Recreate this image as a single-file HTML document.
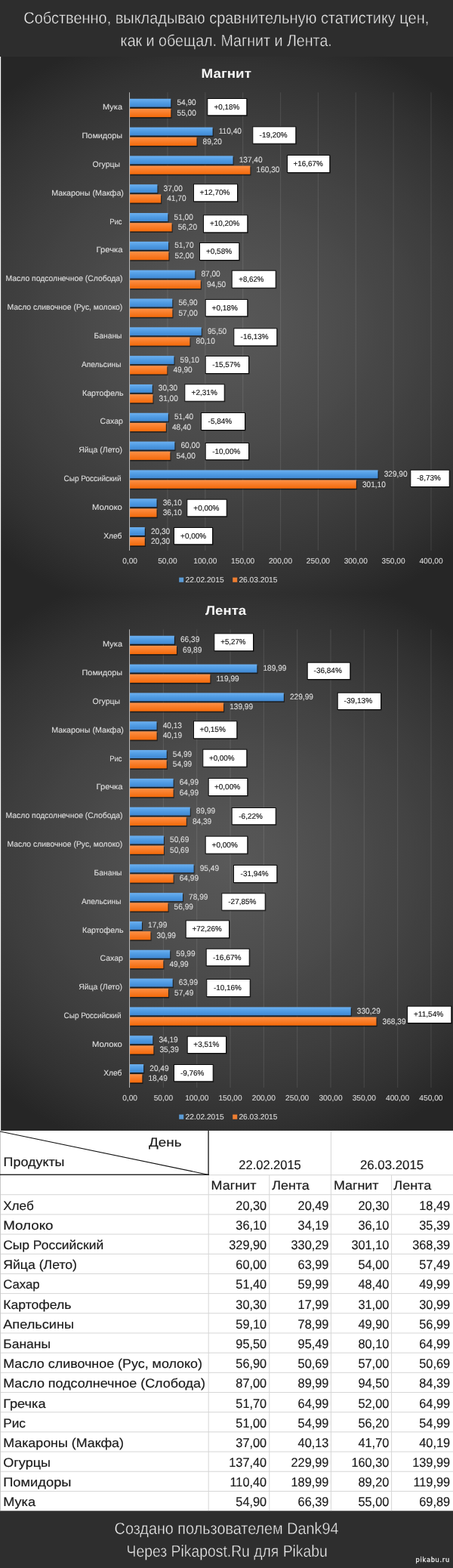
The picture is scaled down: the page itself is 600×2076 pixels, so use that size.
<!DOCTYPE html>
<html lang="ru"><head><meta charset="utf-8"><title>Магнит и Лента</title>
<style>
html,body{margin:0;padding:0;}
body{width:600px;height:2076px;position:relative;overflow:hidden;background:#2e2e2e;font-family:"Liberation Sans", sans-serif;}
.abs{position:absolute;left:0;display:block;}
svg text{font-family:"Liberation Sans", sans-serif;white-space:pre;text-rendering:geometricPrecision;}
.ht{font-size:21.6px;fill:#f0f0f0;stroke:#2d2d2d;stroke-width:0.45px;paint-order:fill stroke;}
.ttl{font-size:17px;font-weight:bold;fill:#f4f4f4;font-family:"Liberation Sans", sans-serif;}
.val{font-size:10.6px;fill:#dcdcdc;stroke:#dcdcdc;stroke-width:0.12px;}
.cat{font-size:10.5px;fill:#dedede;stroke:#dedede;stroke-width:0.12px;}
.ax{font-size:10.2px;fill:#dadada;stroke:#dadada;stroke-width:0.1px;}
.pct{font-size:10px;fill:#111;stroke:#111;stroke-width:0.15px;}
.tb{font-size:16.8px;fill:#1a1a1a;stroke:#1a1a1a;stroke-width:0.18px;}
.tn{font-size:17px;fill:#1a1a1a;stroke:#1a1a1a;stroke-width:0.18px;}
.wm{font-family:"DejaVu Sans", "Liberation Sans", sans-serif;font-size:8.3px;fill:#f0f0f0;stroke:#f0f0f0;stroke-width:0.3px;filter:drop-shadow(0 0 0.6px #111) drop-shadow(0 0 0.6px #111) drop-shadow(0 0 0.5px #111);text-rendering:optimizeLegibility;}
</style></head><body>
<svg class="abs" style="top:0" width="600" height="75" viewBox="0 0 600 75">
<rect x="0" y="0" width="600" height="75" fill="#2d2d2d"/>
<text x="31.3" y="30.7" textLength="536.9" lengthAdjust="spacingAndGlyphs" class="ht">Собственно, выкладываю сравнительную статистику цен,</text>
<text x="159.6" y="60.7" textLength="280.2" lengthAdjust="spacingAndGlyphs" class="ht">как и обещал. Магнит и Лента.</text>
</svg>
<svg class="abs" style="top:75px" width="600" height="711" viewBox="0 75 600 711">
<defs><radialGradient id="g75" gradientUnits="userSpaceOnUse" cx="0" cy="0" r="1" gradientTransform="translate(300 430.5) scale(450.00 405.00)"><stop offset="0.000" stop-color="#595959"/><stop offset="0.050" stop-color="#575757"/><stop offset="0.100" stop-color="#555555"/><stop offset="0.150" stop-color="#545454"/><stop offset="0.200" stop-color="#525252"/><stop offset="0.250" stop-color="#505050"/><stop offset="0.300" stop-color="#4e4e4e"/><stop offset="0.350" stop-color="#4c4c4c"/><stop offset="0.400" stop-color="#4a4a4a"/><stop offset="0.450" stop-color="#474747"/><stop offset="0.500" stop-color="#454545"/><stop offset="0.550" stop-color="#434343"/><stop offset="0.600" stop-color="#404040"/><stop offset="0.650" stop-color="#3e3e3e"/><stop offset="0.700" stop-color="#3b3b3b"/><stop offset="0.750" stop-color="#383838"/><stop offset="0.800" stop-color="#353535"/><stop offset="0.850" stop-color="#323232"/><stop offset="0.900" stop-color="#2e2e2e"/><stop offset="0.950" stop-color="#2a2a2a"/><stop offset="1.000" stop-color="#262626"/></radialGradient>
<linearGradient id="b75" x1="0" y1="0" x2="0" y2="1"><stop offset="0" stop-color="#6cb0f0"/><stop offset="0.5" stop-color="#4f9be3"/><stop offset="1" stop-color="#4088d2"/></linearGradient>
<linearGradient id="o75" x1="0" y1="0" x2="0" y2="1"><stop offset="0" stop-color="#ff9146"/><stop offset="0.5" stop-color="#f87c28"/><stop offset="1" stop-color="#f46a0a"/></linearGradient>
</defs>
<rect x="0" y="75" width="600" height="711" fill="url(#g75)"/>
<rect x="0" y="75" width="1.15" height="711" fill="#f6f6f6"/>
<rect x="221.36" y="122.3" width="1.2" height="606.7" fill="#fff" opacity="0.095"/>
<rect x="271.22" y="122.3" width="1.2" height="606.7" fill="#fff" opacity="0.095"/>
<rect x="321.08" y="122.3" width="1.2" height="606.7" fill="#fff" opacity="0.095"/>
<rect x="370.94" y="122.3" width="1.2" height="606.7" fill="#fff" opacity="0.095"/>
<rect x="420.80" y="122.3" width="1.2" height="606.7" fill="#fff" opacity="0.095"/>
<rect x="470.66" y="122.3" width="1.2" height="606.7" fill="#fff" opacity="0.095"/>
<rect x="520.52" y="122.3" width="1.2" height="606.7" fill="#fff" opacity="0.095"/>
<rect x="570.38" y="122.3" width="1.2" height="606.7" fill="#fff" opacity="0.095"/>
<text x="266.6" y="102.8" textLength="66.3" lengthAdjust="spacingAndGlyphs" class="ttl">Магнит</text>
<rect x="172.5" y="132.35" width="54.90" height="10.95" fill="#000" opacity="0.55"/>
<rect x="172" y="130.75" width="54.30" height="10.95" fill="url(#b75)"/>
<rect x="172.5" y="145.50" width="55.00" height="11.20" fill="#000" opacity="0.55"/>
<rect x="172" y="143.90" width="54.40" height="11.20" fill="url(#o75)"/>
<text transform="translate(234.4 139.25) scale(0.955 1)" class="val">54,90</text>
<text transform="translate(234.5 152.85) scale(0.955 1)" class="val">55,00</text>
<text x="136.1" y="145.35" textLength="25.9" lengthAdjust="spacingAndGlyphs" class="cat">Мука</text>
<rect x="275.5" y="131.4" width="52.4" height="22.5" fill="#000" opacity="0.45"/>
<rect x="274.8" y="130.5" width="52" height="22.3" fill="#fff" stroke="#0a0a0a" stroke-width="1"/>
<text x="283.6" y="144.75" textLength="33.6" lengthAdjust="spacingAndGlyphs" class="pct">+0,18%</text>
<rect x="172.5" y="170.17" width="110.24" height="10.95" fill="#000" opacity="0.55"/>
<rect x="172" y="168.57" width="109.64" height="10.95" fill="url(#b75)"/>
<rect x="172.5" y="183.32" width="89.10" height="11.20" fill="#000" opacity="0.55"/>
<rect x="172" y="181.72" width="88.50" height="11.20" fill="url(#o75)"/>
<text transform="translate(289.74 177.07) scale(0.955 1)" class="val">110,40</text>
<text transform="translate(268.6 190.67) scale(0.955 1)" class="val">89,20</text>
<text x="108.6" y="183.17" textLength="53.4" lengthAdjust="spacingAndGlyphs" class="cat">Помидоры</text>
<rect x="335.5" y="168.7" width="57.4" height="22.6" fill="#000" opacity="0.45"/>
<rect x="334.8" y="167.8" width="57" height="22.4" fill="#fff" stroke="#0a0a0a" stroke-width="1"/>
<text x="343.6" y="182.1" textLength="36.9" lengthAdjust="spacingAndGlyphs" class="pct">-19,20%</text>
<rect x="172.5" y="207.99" width="137.17" height="10.95" fill="#000" opacity="0.55"/>
<rect x="172" y="206.39" width="136.57" height="10.95" fill="url(#b75)"/>
<rect x="172.5" y="221.14" width="160.00" height="11.20" fill="#000" opacity="0.55"/>
<rect x="172" y="219.54" width="159.40" height="11.20" fill="url(#o75)"/>
<text transform="translate(316.67 214.89) scale(0.955 1)" class="val">137,40</text>
<text transform="translate(339.5 228.49) scale(0.955 1)" class="val">160,30</text>
<text x="122.6" y="220.99" textLength="36.4" lengthAdjust="spacingAndGlyphs" class="cat">Огурцы</text>
<rect x="381.2" y="206.4" width="56.7" height="23.2" fill="#000" opacity="0.45"/>
<rect x="380.5" y="205.5" width="56.3" height="23" fill="#fff" stroke="#0a0a0a" stroke-width="1"/>
<text x="388.6" y="220.1" textLength="39.2" lengthAdjust="spacingAndGlyphs" class="pct">+16,67%</text>
<rect x="172.5" y="245.81" width="37.05" height="10.95" fill="#000" opacity="0.55"/>
<rect x="172" y="244.21" width="36.45" height="10.95" fill="url(#b75)"/>
<rect x="172.5" y="258.96" width="41.73" height="11.20" fill="#000" opacity="0.55"/>
<rect x="172" y="257.36" width="41.13" height="11.20" fill="url(#o75)"/>
<text transform="translate(216.55 252.71) scale(0.955 1)" class="val">37,00</text>
<text transform="translate(221.23 266.31) scale(0.955 1)" class="val">41,70</text>
<text x="68.2" y="258.81" textLength="95.7" lengthAdjust="spacingAndGlyphs" class="cat">Макароны (Макфа)</text>
<rect x="257.2" y="244.7" width="58.4" height="23.2" fill="#000" opacity="0.45"/>
<rect x="256.5" y="243.8" width="58" height="23" fill="#fff" stroke="#0a0a0a" stroke-width="1"/>
<text x="264.6" y="258.4" textLength="39.9" lengthAdjust="spacingAndGlyphs" class="pct">+12,70%</text>
<rect x="172.5" y="283.63" width="51.01" height="10.95" fill="#000" opacity="0.55"/>
<rect x="172" y="282.03" width="50.41" height="10.95" fill="url(#b75)"/>
<rect x="172.5" y="296.78" width="56.19" height="11.20" fill="#000" opacity="0.55"/>
<rect x="172" y="295.18" width="55.59" height="11.20" fill="url(#o75)"/>
<text transform="translate(230.51 290.53) scale(0.955 1)" class="val">51,00</text>
<text transform="translate(235.69 304.13) scale(0.955 1)" class="val">56,20</text>
<text x="145.2" y="296.63" textLength="16.3" lengthAdjust="spacingAndGlyphs" class="cat">Рис</text>
<rect x="270.2" y="285.7" width="58.7" height="23.2" fill="#000" opacity="0.45"/>
<rect x="269.5" y="284.8" width="58.3" height="23" fill="#fff" stroke="#0a0a0a" stroke-width="1"/>
<text x="277.9" y="299.4" textLength="39.3" lengthAdjust="spacingAndGlyphs" class="pct">+10,20%</text>
<rect x="172.5" y="321.45" width="51.71" height="10.95" fill="#000" opacity="0.55"/>
<rect x="172" y="319.85" width="51.11" height="10.95" fill="url(#b75)"/>
<rect x="172.5" y="334.60" width="52.00" height="11.20" fill="#000" opacity="0.55"/>
<rect x="172" y="333.00" width="51.40" height="11.20" fill="url(#o75)"/>
<text transform="translate(231.21 328.35) scale(0.955 1)" class="val">51,70</text>
<text transform="translate(231.5 341.95) scale(0.955 1)" class="val">52,00</text>
<text x="127.6" y="334.45" textLength="34.9" lengthAdjust="spacingAndGlyphs" class="cat">Гречка</text>
<rect x="265.2" y="322.4" width="52.7" height="23.2" fill="#000" opacity="0.45"/>
<rect x="264.5" y="321.5" width="52.3" height="23" fill="#fff" stroke="#0a0a0a" stroke-width="1"/>
<text x="272.9" y="336.1" textLength="34.3" lengthAdjust="spacingAndGlyphs" class="pct">+0,58%</text>
<rect x="172.5" y="359.27" width="86.91" height="10.95" fill="#000" opacity="0.55"/>
<rect x="172" y="357.67" width="86.31" height="10.95" fill="url(#b75)"/>
<rect x="172.5" y="372.42" width="94.39" height="11.20" fill="#000" opacity="0.55"/>
<rect x="172" y="370.82" width="93.79" height="11.20" fill="url(#o75)"/>
<text transform="translate(266.41 366.17) scale(0.955 1)" class="val">87,00</text>
<text transform="translate(273.89 379.77) scale(0.955 1)" class="val">94,50</text>
<text x="7.5" y="372.27" textLength="155" lengthAdjust="spacingAndGlyphs" class="cat">Масло подсолнечное (Слобода)</text>
<rect x="307.9" y="359.1" width="58.4" height="23.2" fill="#000" opacity="0.45"/>
<rect x="307.2" y="358.2" width="58" height="23" fill="#fff" stroke="#0a0a0a" stroke-width="1"/>
<text x="316.3" y="372.8" textLength="33.2" lengthAdjust="spacingAndGlyphs" class="pct">+8,62%</text>
<rect x="172.5" y="397.09" width="56.89" height="10.95" fill="#000" opacity="0.55"/>
<rect x="172" y="395.49" width="56.29" height="10.95" fill="url(#b75)"/>
<rect x="172.5" y="410.24" width="56.99" height="11.20" fill="#000" opacity="0.55"/>
<rect x="172" y="408.64" width="56.39" height="11.20" fill="url(#o75)"/>
<text transform="translate(236.39 403.99) scale(0.955 1)" class="val">56,90</text>
<text transform="translate(236.49 417.59) scale(0.955 1)" class="val">57,00</text>
<text x="9.5" y="410.09" textLength="152.8" lengthAdjust="spacingAndGlyphs" class="cat">Масло сливочное (Рус, молоко)</text>
<rect x="272.9" y="397.4" width="56" height="22.5" fill="#000" opacity="0.45"/>
<rect x="272.2" y="396.5" width="55.6" height="22.3" fill="#fff" stroke="#0a0a0a" stroke-width="1"/>
<text x="280.6" y="410.75" textLength="34.2" lengthAdjust="spacingAndGlyphs" class="pct">+0,18%</text>
<rect x="172.5" y="434.91" width="95.38" height="10.95" fill="#000" opacity="0.55"/>
<rect x="172" y="433.31" width="94.78" height="10.95" fill="url(#b75)"/>
<rect x="172.5" y="448.06" width="80.03" height="11.20" fill="#000" opacity="0.55"/>
<rect x="172" y="446.46" width="79.43" height="11.20" fill="url(#o75)"/>
<text transform="translate(274.88 441.81) scale(0.955 1)" class="val">95,50</text>
<text transform="translate(259.53 455.41) scale(0.955 1)" class="val">80,10</text>
<text x="124.6" y="447.91" textLength="36.9" lengthAdjust="spacingAndGlyphs" class="cat">Бананы</text>
<rect x="310.5" y="435.7" width="57.4" height="23.2" fill="#000" opacity="0.45"/>
<rect x="309.8" y="434.8" width="57" height="23" fill="#fff" stroke="#0a0a0a" stroke-width="1"/>
<text x="318.6" y="449.4" textLength="36.9" lengthAdjust="spacingAndGlyphs" class="pct">-16,13%</text>
<rect x="172.5" y="472.73" width="59.08" height="10.95" fill="#000" opacity="0.55"/>
<rect x="172" y="471.13" width="58.48" height="10.95" fill="url(#b75)"/>
<rect x="172.5" y="485.88" width="49.91" height="11.20" fill="#000" opacity="0.55"/>
<rect x="172" y="484.28" width="49.31" height="11.20" fill="url(#o75)"/>
<text transform="translate(238.58 479.63) scale(0.955 1)" class="val">59,10</text>
<text transform="translate(229.41 493.23) scale(0.955 1)" class="val">49,90</text>
<text x="108" y="485.73" textLength="52.5" lengthAdjust="spacingAndGlyphs" class="cat">Апельсины</text>
<rect x="272.9" y="472.4" width="57.7" height="23.2" fill="#000" opacity="0.45"/>
<rect x="272.2" y="471.5" width="57.3" height="23" fill="#fff" stroke="#0a0a0a" stroke-width="1"/>
<text x="281.3" y="486.1" textLength="36.9" lengthAdjust="spacingAndGlyphs" class="pct">-15,57%</text>
<rect x="172.5" y="510.55" width="30.37" height="10.95" fill="#000" opacity="0.55"/>
<rect x="172" y="508.95" width="29.77" height="10.95" fill="url(#b75)"/>
<rect x="172.5" y="523.70" width="31.06" height="11.20" fill="#000" opacity="0.55"/>
<rect x="172" y="522.10" width="30.46" height="11.20" fill="url(#o75)"/>
<text transform="translate(209.87 517.45) scale(0.955 1)" class="val">30,30</text>
<text transform="translate(210.56 531.05) scale(0.955 1)" class="val">31,00</text>
<text x="109" y="523.55" textLength="54.5" lengthAdjust="spacingAndGlyphs" class="cat">Картофель</text>
<rect x="245.5" y="509.7" width="52.8" height="22.6" fill="#000" opacity="0.45"/>
<rect x="244.8" y="508.8" width="52.4" height="22.4" fill="#fff" stroke="#0a0a0a" stroke-width="1"/>
<text x="253.6" y="523.1" textLength="34.2" lengthAdjust="spacingAndGlyphs" class="pct">+2,31%</text>
<rect x="172.5" y="548.37" width="51.41" height="10.95" fill="#000" opacity="0.55"/>
<rect x="172" y="546.77" width="50.81" height="10.95" fill="url(#b75)"/>
<rect x="172.5" y="561.52" width="48.41" height="11.20" fill="#000" opacity="0.55"/>
<rect x="172" y="559.92" width="47.81" height="11.20" fill="url(#o75)"/>
<text transform="translate(230.91 555.27) scale(0.955 1)" class="val">51,40</text>
<text transform="translate(227.91 568.87) scale(0.955 1)" class="val">48,40</text>
<text x="132.6" y="561.37" textLength="30.3" lengthAdjust="spacingAndGlyphs" class="cat">Сахар</text>
<rect x="267.2" y="547.4" width="58.4" height="23.2" fill="#000" opacity="0.45"/>
<rect x="266.5" y="546.5" width="58" height="23" fill="#fff" stroke="#0a0a0a" stroke-width="1"/>
<text x="275.6" y="561.1" textLength="31.6" lengthAdjust="spacingAndGlyphs" class="pct">-5,84%</text>
<rect x="172.5" y="586.19" width="59.98" height="10.95" fill="#000" opacity="0.55"/>
<rect x="172" y="584.59" width="59.38" height="10.95" fill="url(#b75)"/>
<rect x="172.5" y="599.34" width="54.00" height="11.20" fill="#000" opacity="0.55"/>
<rect x="172" y="597.74" width="53.40" height="11.20" fill="url(#o75)"/>
<text transform="translate(239.48 593.09) scale(0.955 1)" class="val">60,00</text>
<text transform="translate(233.5 606.69) scale(0.955 1)" class="val">54,00</text>
<text x="104.2" y="599.19" textLength="57.9" lengthAdjust="spacingAndGlyphs" class="cat">Яйца (Лето)</text>
<rect x="272.9" y="587.4" width="57.7" height="22.5" fill="#000" opacity="0.45"/>
<rect x="272.2" y="586.5" width="57.3" height="22.3" fill="#fff" stroke="#0a0a0a" stroke-width="1"/>
<text x="281.3" y="600.75" textLength="36.9" lengthAdjust="spacingAndGlyphs" class="pct">-10,00%</text>
<rect x="172.5" y="624.01" width="329.13" height="10.95" fill="#000" opacity="0.55"/>
<rect x="172" y="622.41" width="328.53" height="10.95" fill="url(#b75)"/>
<rect x="172.5" y="637.16" width="300.41" height="11.20" fill="#000" opacity="0.55"/>
<rect x="172" y="635.56" width="299.81" height="11.20" fill="url(#o75)"/>
<text transform="translate(508.63 630.91) scale(0.955 1)" class="val">329,90</text>
<text transform="translate(479.91 644.51) scale(0.955 1)" class="val">301,10</text>
<text x="84.6" y="637.01" textLength="75.9" lengthAdjust="spacingAndGlyphs" class="cat">Сыр Российский</text>
<rect x="544.5" y="623.1" width="51.8" height="22.5" fill="#000" opacity="0.45"/>
<rect x="543.8" y="622.2" width="51.4" height="22.3" fill="#fff" stroke="#0a0a0a" stroke-width="1"/>
<text x="552.3" y="636.45" textLength="31.5" lengthAdjust="spacingAndGlyphs" class="pct">-8,73%</text>
<rect x="172.5" y="661.83" width="36.15" height="10.95" fill="#000" opacity="0.55"/>
<rect x="172" y="660.23" width="35.55" height="10.95" fill="url(#b75)"/>
<rect x="172.5" y="674.98" width="36.15" height="11.20" fill="#000" opacity="0.55"/>
<rect x="172" y="673.38" width="35.55" height="11.20" fill="url(#o75)"/>
<text transform="translate(215.65 668.73) scale(0.955 1)" class="val">36,10</text>
<text transform="translate(215.65 682.33) scale(0.955 1)" class="val">36,10</text>
<text x="122" y="674.83" textLength="39.9" lengthAdjust="spacingAndGlyphs" class="cat">Молоко</text>
<rect x="248.5" y="662.1" width="52.8" height="22.8" fill="#000" opacity="0.45"/>
<rect x="247.8" y="661.2" width="52.4" height="22.6" fill="#fff" stroke="#0a0a0a" stroke-width="1"/>
<text x="256.3" y="675.6" textLength="34.2" lengthAdjust="spacingAndGlyphs" class="pct">+0,00%</text>
<rect x="172.5" y="699.65" width="20.39" height="10.95" fill="#000" opacity="0.55"/>
<rect x="172" y="698.05" width="19.79" height="10.95" fill="url(#b75)"/>
<rect x="172.5" y="712.80" width="20.39" height="11.20" fill="#000" opacity="0.55"/>
<rect x="172" y="711.20" width="19.79" height="11.20" fill="url(#o75)"/>
<text transform="translate(199.89 706.55) scale(0.955 1)" class="val">20,30</text>
<text transform="translate(199.89 720.15) scale(0.955 1)" class="val">20,30</text>
<text x="137.2" y="712.65" textLength="24.3" lengthAdjust="spacingAndGlyphs" class="cat">Хлеб</text>
<rect x="231.2" y="699.4" width="51.4" height="22.45" fill="#000" opacity="0.45"/>
<rect x="230.5" y="698.5" width="51" height="22.25" fill="#fff" stroke="#0a0a0a" stroke-width="1"/>
<text x="239.1" y="712.73" textLength="33.9" lengthAdjust="spacingAndGlyphs" class="pct">+0,00%</text>
<rect x="171" y="122.3" width="1" height="606.7" fill="#b4b4b4"/>
<text x="172.10" y="745.7" text-anchor="middle" class="ax">0,00</text>
<text x="221.96" y="745.7" text-anchor="middle" class="ax">50,00</text>
<text x="271.82" y="745.7" text-anchor="middle" class="ax">100,00</text>
<text x="321.68" y="745.7" text-anchor="middle" class="ax">150,00</text>
<text x="371.54" y="745.7" text-anchor="middle" class="ax">200,00</text>
<text x="421.40" y="745.7" text-anchor="middle" class="ax">250,00</text>
<text x="471.26" y="745.7" text-anchor="middle" class="ax">300,00</text>
<text x="521.12" y="745.7" text-anchor="middle" class="ax">350,00</text>
<text x="570.98" y="745.7" text-anchor="middle" class="ax">400,00</text>
<rect x="237.2" y="764.6" width="6" height="6.2" fill="#5b9bd5"/>
<text x="245.6" y="770.9" class="ax">22.02.2015</text>
<rect x="308.2" y="764.6" width="6" height="6.2" fill="#ed7d31"/>
<text x="316.4" y="770.9" class="ax">26.03.2015</text>
</svg>
<svg class="abs" style="top:786px" width="600" height="712" viewBox="0 786 600 712">
<defs><radialGradient id="g786" gradientUnits="userSpaceOnUse" cx="0" cy="0" r="1" gradientTransform="translate(300 1141.5) scale(450.00 405.00)"><stop offset="0.000" stop-color="#595959"/><stop offset="0.050" stop-color="#575757"/><stop offset="0.100" stop-color="#555555"/><stop offset="0.150" stop-color="#545454"/><stop offset="0.200" stop-color="#525252"/><stop offset="0.250" stop-color="#505050"/><stop offset="0.300" stop-color="#4e4e4e"/><stop offset="0.350" stop-color="#4c4c4c"/><stop offset="0.400" stop-color="#4a4a4a"/><stop offset="0.450" stop-color="#474747"/><stop offset="0.500" stop-color="#454545"/><stop offset="0.550" stop-color="#434343"/><stop offset="0.600" stop-color="#404040"/><stop offset="0.650" stop-color="#3e3e3e"/><stop offset="0.700" stop-color="#3b3b3b"/><stop offset="0.750" stop-color="#383838"/><stop offset="0.800" stop-color="#353535"/><stop offset="0.850" stop-color="#323232"/><stop offset="0.900" stop-color="#2e2e2e"/><stop offset="0.950" stop-color="#2a2a2a"/><stop offset="1.000" stop-color="#262626"/></radialGradient>
<linearGradient id="b786" x1="0" y1="0" x2="0" y2="1"><stop offset="0" stop-color="#6cb0f0"/><stop offset="0.5" stop-color="#4f9be3"/><stop offset="1" stop-color="#4088d2"/></linearGradient>
<linearGradient id="o786" x1="0" y1="0" x2="0" y2="1"><stop offset="0" stop-color="#ff9146"/><stop offset="0.5" stop-color="#f87c28"/><stop offset="1" stop-color="#f46a0a"/></linearGradient>
</defs>
<rect x="0" y="786" width="600" height="712" fill="url(#g786)"/>
<rect x="0" y="786" width="1.15" height="712" fill="#f6f6f6"/>
<rect x="215.81" y="833.3" width="1.2" height="606.7" fill="#fff" opacity="0.095"/>
<rect x="260.13" y="833.3" width="1.2" height="606.7" fill="#fff" opacity="0.095"/>
<rect x="304.44" y="833.3" width="1.2" height="606.7" fill="#fff" opacity="0.095"/>
<rect x="348.76" y="833.3" width="1.2" height="606.7" fill="#fff" opacity="0.095"/>
<rect x="393.07" y="833.3" width="1.2" height="606.7" fill="#fff" opacity="0.095"/>
<rect x="437.39" y="833.3" width="1.2" height="606.7" fill="#fff" opacity="0.095"/>
<rect x="481.70" y="833.3" width="1.2" height="606.7" fill="#fff" opacity="0.095"/>
<rect x="526.02" y="833.3" width="1.2" height="606.7" fill="#fff" opacity="0.095"/>
<rect x="570.33" y="833.3" width="1.2" height="606.7" fill="#fff" opacity="0.095"/>
<text x="272" y="813.8" textLength="54.1" lengthAdjust="spacingAndGlyphs" class="ttl">Лента</text>
<rect x="172.5" y="843.35" width="59.44" height="10.95" fill="#000" opacity="0.55"/>
<rect x="172" y="841.75" width="58.84" height="10.95" fill="url(#b786)"/>
<rect x="172.5" y="856.50" width="62.54" height="11.20" fill="#000" opacity="0.55"/>
<rect x="172" y="854.90" width="61.94" height="11.20" fill="url(#o786)"/>
<text transform="translate(238.94 850.25) scale(0.955 1)" class="val">66,39</text>
<text transform="translate(242.04 863.85) scale(0.955 1)" class="val">69,89</text>
<text x="136.1" y="856.35" textLength="25.9" lengthAdjust="spacingAndGlyphs" class="cat">Мука</text>
<rect x="284.5" y="839.7" width="52.1" height="23.2" fill="#000" opacity="0.45"/>
<rect x="283.8" y="838.8" width="51.7" height="23" fill="#fff" stroke="#0a0a0a" stroke-width="1"/>
<text x="292.3" y="853.4" textLength="33.2" lengthAdjust="spacingAndGlyphs" class="pct">+5,27%</text>
<rect x="172.5" y="881.17" width="168.99" height="10.95" fill="#000" opacity="0.55"/>
<rect x="172" y="879.57" width="168.39" height="10.95" fill="url(#b786)"/>
<rect x="172.5" y="894.32" width="106.95" height="11.20" fill="#000" opacity="0.55"/>
<rect x="172" y="892.72" width="106.35" height="11.20" fill="url(#o786)"/>
<text transform="translate(348.49 888.07) scale(0.955 1)" class="val">189,99</text>
<text transform="translate(286.45 901.67) scale(0.955 1)" class="val">119,99</text>
<text x="108.6" y="894.17" textLength="53.4" lengthAdjust="spacingAndGlyphs" class="cat">Помидоры</text>
<rect x="407.9" y="878.1" width="57" height="22.5" fill="#000" opacity="0.45"/>
<rect x="407.2" y="877.2" width="56.6" height="22.3" fill="#fff" stroke="#0a0a0a" stroke-width="1"/>
<text x="415.6" y="891.45" textLength="37.2" lengthAdjust="spacingAndGlyphs" class="pct">-36,84%</text>
<rect x="172.5" y="918.99" width="204.44" height="10.95" fill="#000" opacity="0.55"/>
<rect x="172" y="917.39" width="203.84" height="10.95" fill="url(#b786)"/>
<rect x="172.5" y="932.14" width="124.67" height="11.20" fill="#000" opacity="0.55"/>
<rect x="172" y="930.54" width="124.07" height="11.20" fill="url(#o786)"/>
<text transform="translate(383.94 925.89) scale(0.955 1)" class="val">229,99</text>
<text transform="translate(304.17 939.49) scale(0.955 1)" class="val">139,99</text>
<text x="122.6" y="931.99" textLength="36.4" lengthAdjust="spacingAndGlyphs" class="cat">Огурцы</text>
<rect x="447.9" y="918.1" width="57.7" height="22.5" fill="#000" opacity="0.45"/>
<rect x="447.2" y="917.2" width="57.3" height="22.3" fill="#fff" stroke="#0a0a0a" stroke-width="1"/>
<text x="455.6" y="931.45" textLength="37.6" lengthAdjust="spacingAndGlyphs" class="pct">-39,13%</text>
<rect x="172.5" y="956.81" width="36.17" height="10.95" fill="#000" opacity="0.55"/>
<rect x="172" y="955.21" width="35.57" height="10.95" fill="url(#b786)"/>
<rect x="172.5" y="969.96" width="36.22" height="11.20" fill="#000" opacity="0.55"/>
<rect x="172" y="968.36" width="35.62" height="11.20" fill="url(#o786)"/>
<text transform="translate(215.67 963.71) scale(0.955 1)" class="val">40,13</text>
<text transform="translate(215.72 977.31) scale(0.955 1)" class="val">40,19</text>
<text x="68.2" y="969.81" textLength="95.7" lengthAdjust="spacingAndGlyphs" class="cat">Макароны (Макфа)</text>
<rect x="257.2" y="955.7" width="57.7" height="23.2" fill="#000" opacity="0.45"/>
<rect x="256.5" y="954.8" width="57.3" height="23" fill="#fff" stroke="#0a0a0a" stroke-width="1"/>
<text x="264.6" y="969.4" textLength="34.2" lengthAdjust="spacingAndGlyphs" class="pct">+0,15%</text>
<rect x="172.5" y="994.63" width="49.34" height="10.95" fill="#000" opacity="0.55"/>
<rect x="172" y="993.03" width="48.74" height="10.95" fill="url(#b786)"/>
<rect x="172.5" y="1007.78" width="49.34" height="11.20" fill="#000" opacity="0.55"/>
<rect x="172" y="1006.18" width="48.74" height="11.20" fill="url(#o786)"/>
<text transform="translate(228.84 1001.53) scale(0.955 1)" class="val">54,99</text>
<text transform="translate(228.84 1015.13) scale(0.955 1)" class="val">54,99</text>
<text x="145.2" y="1007.63" textLength="16.3" lengthAdjust="spacingAndGlyphs" class="cat">Рис</text>
<rect x="269.5" y="993.1" width="58.4" height="23.2" fill="#000" opacity="0.45"/>
<rect x="268.8" y="992.2" width="58" height="23" fill="#fff" stroke="#0a0a0a" stroke-width="1"/>
<text x="276.9" y="1006.8" textLength="33.6" lengthAdjust="spacingAndGlyphs" class="pct">+0,00%</text>
<rect x="172.5" y="1032.45" width="58.20" height="10.95" fill="#000" opacity="0.55"/>
<rect x="172" y="1030.85" width="57.60" height="10.95" fill="url(#b786)"/>
<rect x="172.5" y="1045.60" width="58.20" height="11.20" fill="#000" opacity="0.55"/>
<rect x="172" y="1044.00" width="57.60" height="11.20" fill="url(#o786)"/>
<text transform="translate(237.7 1039.35) scale(0.955 1)" class="val">64,99</text>
<text transform="translate(237.7 1052.95) scale(0.955 1)" class="val">64,99</text>
<text x="127.6" y="1045.45" textLength="34.9" lengthAdjust="spacingAndGlyphs" class="cat">Гречка</text>
<rect x="276.9" y="1031.4" width="52" height="23.2" fill="#000" opacity="0.45"/>
<rect x="276.2" y="1030.5" width="51.6" height="23" fill="#fff" stroke="#0a0a0a" stroke-width="1"/>
<text x="283.9" y="1045.1" textLength="34.3" lengthAdjust="spacingAndGlyphs" class="pct">+0,00%</text>
<rect x="172.5" y="1070.27" width="80.36" height="10.95" fill="#000" opacity="0.55"/>
<rect x="172" y="1068.67" width="79.76" height="10.95" fill="url(#b786)"/>
<rect x="172.5" y="1083.42" width="75.39" height="11.20" fill="#000" opacity="0.55"/>
<rect x="172" y="1081.82" width="74.79" height="11.20" fill="url(#o786)"/>
<text transform="translate(259.86 1077.17) scale(0.955 1)" class="val">89,99</text>
<text transform="translate(254.89 1090.77) scale(0.955 1)" class="val">84,39</text>
<text x="7.5" y="1083.27" textLength="155" lengthAdjust="spacingAndGlyphs" class="cat">Масло подсолнечное (Слобода)</text>
<rect x="307.9" y="1070.4" width="58.4" height="22.5" fill="#000" opacity="0.45"/>
<rect x="307.2" y="1069.5" width="58" height="22.3" fill="#fff" stroke="#0a0a0a" stroke-width="1"/>
<text x="316.3" y="1083.75" textLength="31.5" lengthAdjust="spacingAndGlyphs" class="pct">-6,22%</text>
<rect x="172.5" y="1108.09" width="45.53" height="10.95" fill="#000" opacity="0.55"/>
<rect x="172" y="1106.49" width="44.93" height="10.95" fill="url(#b786)"/>
<rect x="172.5" y="1121.24" width="45.53" height="11.20" fill="#000" opacity="0.55"/>
<rect x="172" y="1119.64" width="44.93" height="11.20" fill="url(#o786)"/>
<text transform="translate(225.03 1114.99) scale(0.955 1)" class="val">50,69</text>
<text transform="translate(225.03 1128.59) scale(0.955 1)" class="val">50,69</text>
<text x="9.5" y="1121.09" textLength="152.8" lengthAdjust="spacingAndGlyphs" class="cat">Масло сливочное (Рус, молоко)</text>
<rect x="272.9" y="1108.1" width="56" height="23.2" fill="#000" opacity="0.45"/>
<rect x="272.2" y="1107.2" width="55.6" height="23" fill="#fff" stroke="#0a0a0a" stroke-width="1"/>
<text x="280.6" y="1121.8" textLength="34.2" lengthAdjust="spacingAndGlyphs" class="pct">+0,00%</text>
<rect x="172.5" y="1145.91" width="85.23" height="10.95" fill="#000" opacity="0.55"/>
<rect x="172" y="1144.31" width="84.63" height="10.95" fill="url(#b786)"/>
<rect x="172.5" y="1159.06" width="58.20" height="11.20" fill="#000" opacity="0.55"/>
<rect x="172" y="1157.46" width="57.60" height="11.20" fill="url(#o786)"/>
<text transform="translate(264.73 1152.81) scale(0.955 1)" class="val">95,49</text>
<text transform="translate(237.7 1166.41) scale(0.955 1)" class="val">64,99</text>
<text x="124.6" y="1158.91" textLength="36.9" lengthAdjust="spacingAndGlyphs" class="cat">Бананы</text>
<rect x="310.2" y="1146.4" width="57.7" height="23.2" fill="#000" opacity="0.45"/>
<rect x="309.5" y="1145.5" width="57.3" height="23" fill="#fff" stroke="#0a0a0a" stroke-width="1"/>
<text x="318.6" y="1160.1" textLength="36.9" lengthAdjust="spacingAndGlyphs" class="pct">-31,94%</text>
<rect x="172.5" y="1183.73" width="70.61" height="10.95" fill="#000" opacity="0.55"/>
<rect x="172" y="1182.13" width="70.01" height="10.95" fill="url(#b786)"/>
<rect x="172.5" y="1196.88" width="51.11" height="11.20" fill="#000" opacity="0.55"/>
<rect x="172" y="1195.28" width="50.51" height="11.20" fill="url(#o786)"/>
<text transform="translate(250.11 1190.63) scale(0.955 1)" class="val">78,99</text>
<text transform="translate(230.61 1204.23) scale(0.955 1)" class="val">56,99</text>
<text x="108" y="1196.73" textLength="52.5" lengthAdjust="spacingAndGlyphs" class="cat">Апельсины</text>
<rect x="294.5" y="1183.7" width="57.8" height="22.6" fill="#000" opacity="0.45"/>
<rect x="293.8" y="1182.8" width="57.4" height="22.4" fill="#fff" stroke="#0a0a0a" stroke-width="1"/>
<text x="302.3" y="1197.1" textLength="37.2" lengthAdjust="spacingAndGlyphs" class="pct">-27,85%</text>
<rect x="172.5" y="1221.55" width="16.54" height="10.95" fill="#000" opacity="0.55"/>
<rect x="172" y="1219.95" width="15.94" height="10.95" fill="url(#b786)"/>
<rect x="172.5" y="1234.70" width="28.07" height="11.20" fill="#000" opacity="0.55"/>
<rect x="172" y="1233.10" width="27.47" height="11.20" fill="url(#o786)"/>
<text transform="translate(196.04 1228.45) scale(0.955 1)" class="val">17,99</text>
<text transform="translate(207.57 1242.05) scale(0.955 1)" class="val">30,99</text>
<text x="109" y="1234.55" textLength="54.5" lengthAdjust="spacingAndGlyphs" class="cat">Картофель</text>
<rect x="246.9" y="1219.7" width="57.7" height="23.2" fill="#000" opacity="0.45"/>
<rect x="246.2" y="1218.8" width="57.3" height="23" fill="#fff" stroke="#0a0a0a" stroke-width="1"/>
<text x="254.6" y="1233.4" textLength="39.2" lengthAdjust="spacingAndGlyphs" class="pct">+72,26%</text>
<rect x="172.5" y="1259.37" width="53.77" height="10.95" fill="#000" opacity="0.55"/>
<rect x="172" y="1257.77" width="53.17" height="10.95" fill="url(#b786)"/>
<rect x="172.5" y="1272.52" width="44.91" height="11.20" fill="#000" opacity="0.55"/>
<rect x="172" y="1270.92" width="44.31" height="11.20" fill="url(#o786)"/>
<text transform="translate(233.27 1266.27) scale(0.955 1)" class="val">59,99</text>
<text transform="translate(224.41 1279.87) scale(0.955 1)" class="val">49,99</text>
<text x="132.6" y="1272.37" textLength="30.3" lengthAdjust="spacingAndGlyphs" class="cat">Сахар</text>
<rect x="273.9" y="1257.1" width="57.4" height="22.8" fill="#000" opacity="0.45"/>
<rect x="273.2" y="1256.2" width="57" height="22.6" fill="#fff" stroke="#0a0a0a" stroke-width="1"/>
<text x="281.9" y="1270.6" textLength="37.6" lengthAdjust="spacingAndGlyphs" class="pct">-16,67%</text>
<rect x="172.5" y="1297.19" width="57.31" height="10.95" fill="#000" opacity="0.55"/>
<rect x="172" y="1295.59" width="56.71" height="10.95" fill="url(#b786)"/>
<rect x="172.5" y="1310.34" width="51.55" height="11.20" fill="#000" opacity="0.55"/>
<rect x="172" y="1308.74" width="50.95" height="11.20" fill="url(#o786)"/>
<text transform="translate(236.81 1304.09) scale(0.955 1)" class="val">63,99</text>
<text transform="translate(231.05 1317.69) scale(0.955 1)" class="val">57,49</text>
<text x="104.2" y="1310.19" textLength="57.9" lengthAdjust="spacingAndGlyphs" class="cat">Яйца (Лето)</text>
<rect x="274.5" y="1297.4" width="57.8" height="23.2" fill="#000" opacity="0.45"/>
<rect x="273.8" y="1296.5" width="57.4" height="23" fill="#fff" stroke="#0a0a0a" stroke-width="1"/>
<text x="282.9" y="1311.1" textLength="36.9" lengthAdjust="spacingAndGlyphs" class="pct">-10,16%</text>
<rect x="172.5" y="1335.01" width="293.34" height="10.95" fill="#000" opacity="0.55"/>
<rect x="172" y="1333.41" width="292.74" height="10.95" fill="url(#b786)"/>
<rect x="172.5" y="1348.16" width="327.10" height="11.20" fill="#000" opacity="0.55"/>
<rect x="172" y="1346.56" width="326.50" height="11.20" fill="url(#o786)"/>
<text transform="translate(472.84 1341.91) scale(0.955 1)" class="val">330,29</text>
<text transform="translate(506.6 1355.51) scale(0.955 1)" class="val">368,39</text>
<text x="84.6" y="1348.01" textLength="75.9" lengthAdjust="spacingAndGlyphs" class="cat">Сыр Российский</text>
<rect x="540.2" y="1333.1" width="58.7" height="22.5" fill="#000" opacity="0.45"/>
<rect x="539.5" y="1332.2" width="58.3" height="22.3" fill="#fff" stroke="#0a0a0a" stroke-width="1"/>
<text x="547.9" y="1346.45" textLength="39.3" lengthAdjust="spacingAndGlyphs" class="pct">+11,54%</text>
<rect x="172.5" y="1372.83" width="30.90" height="10.95" fill="#000" opacity="0.55"/>
<rect x="172" y="1371.23" width="30.30" height="10.95" fill="url(#b786)"/>
<rect x="172.5" y="1385.98" width="31.97" height="11.20" fill="#000" opacity="0.55"/>
<rect x="172" y="1384.38" width="31.37" height="11.20" fill="url(#o786)"/>
<text transform="translate(210.4 1379.73) scale(0.955 1)" class="val">34,19</text>
<text transform="translate(211.47 1393.33) scale(0.955 1)" class="val">35,39</text>
<text x="122" y="1385.83" textLength="39.9" lengthAdjust="spacingAndGlyphs" class="cat">Молоко</text>
<rect x="248.9" y="1373.1" width="51.7" height="22.5" fill="#000" opacity="0.45"/>
<rect x="248.2" y="1372.2" width="51.3" height="22.3" fill="#fff" stroke="#0a0a0a" stroke-width="1"/>
<text x="256.3" y="1386.45" textLength="34.2" lengthAdjust="spacingAndGlyphs" class="pct">+3,51%</text>
<rect x="172.5" y="1410.65" width="18.76" height="10.95" fill="#000" opacity="0.55"/>
<rect x="172" y="1409.05" width="18.16" height="10.95" fill="url(#b786)"/>
<rect x="172.5" y="1423.80" width="16.99" height="11.20" fill="#000" opacity="0.55"/>
<rect x="172" y="1422.20" width="16.39" height="11.20" fill="url(#o786)"/>
<text transform="translate(198.26 1417.55) scale(0.955 1)" class="val">20,49</text>
<text transform="translate(196.49 1431.15) scale(0.955 1)" class="val">18,49</text>
<text x="137.2" y="1423.65" textLength="24.3" lengthAdjust="spacingAndGlyphs" class="cat">Хлеб</text>
<rect x="231.2" y="1410.4" width="52.1" height="22.5" fill="#000" opacity="0.45"/>
<rect x="230.5" y="1409.5" width="51.7" height="22.3" fill="#fff" stroke="#0a0a0a" stroke-width="1"/>
<text x="238.9" y="1423.75" textLength="31.6" lengthAdjust="spacingAndGlyphs" class="pct">-9,76%</text>
<rect x="171" y="833.3" width="1" height="606.7" fill="#b4b4b4"/>
<text x="172.10" y="1456.7" text-anchor="middle" class="ax">0,00</text>
<text x="216.41" y="1456.7" text-anchor="middle" class="ax">50,00</text>
<text x="260.73" y="1456.7" text-anchor="middle" class="ax">100,00</text>
<text x="305.04" y="1456.7" text-anchor="middle" class="ax">150,00</text>
<text x="349.36" y="1456.7" text-anchor="middle" class="ax">200,00</text>
<text x="393.67" y="1456.7" text-anchor="middle" class="ax">250,00</text>
<text x="437.99" y="1456.7" text-anchor="middle" class="ax">300,00</text>
<text x="482.30" y="1456.7" text-anchor="middle" class="ax">350,00</text>
<text x="526.62" y="1456.7" text-anchor="middle" class="ax">400,00</text>
<text x="570.93" y="1456.7" text-anchor="middle" class="ax">450,00</text>
<rect x="237.2" y="1475.6" width="6" height="6.2" fill="#5b9bd5"/>
<text x="245.6" y="1481.9" class="ax">22.02.2015</text>
<rect x="308.2" y="1475.6" width="6" height="6.2" fill="#ed7d31"/>
<text x="316.4" y="1481.9" class="ax">26.03.2015</text>
</svg>
<svg class="abs" style="top:1497px" width="600" height="504" viewBox="0 1497 600 504">
<rect x="0" y="1497" width="600" height="503.6" fill="#fff"/>
<rect x="276" y="1555.2" width="324" height="1" fill="#d6d6d6"/>
<rect x="0" y="1581.20" width="600" height="1" fill="#d6d6d6"/>
<rect x="0" y="1607.38" width="600" height="1" fill="#d6d6d6"/>
<rect x="0" y="1633.56" width="600" height="1" fill="#d6d6d6"/>
<rect x="0" y="1659.74" width="600" height="1" fill="#d6d6d6"/>
<rect x="0" y="1685.92" width="600" height="1" fill="#d6d6d6"/>
<rect x="0" y="1712.10" width="600" height="1" fill="#d6d6d6"/>
<rect x="0" y="1738.28" width="600" height="1" fill="#d6d6d6"/>
<rect x="0" y="1764.46" width="600" height="1" fill="#d6d6d6"/>
<rect x="0" y="1790.64" width="600" height="1" fill="#d6d6d6"/>
<rect x="0" y="1816.82" width="600" height="1" fill="#d6d6d6"/>
<rect x="0" y="1843.00" width="600" height="1" fill="#d6d6d6"/>
<rect x="0" y="1869.18" width="600" height="1" fill="#d6d6d6"/>
<rect x="0" y="1895.36" width="600" height="1" fill="#d6d6d6"/>
<rect x="0" y="1921.54" width="600" height="1" fill="#d6d6d6"/>
<rect x="0" y="1947.72" width="600" height="1" fill="#d6d6d6"/>
<rect x="0" y="1973.90" width="600" height="1" fill="#d6d6d6"/>
<rect x="275.7" y="1556" width="1" height="444.6" fill="#d6d6d6"/>
<rect x="356.3" y="1556" width="1" height="444.6" fill="#d6d6d6"/>
<rect x="437.9" y="1497" width="1" height="503.6" fill="#d6d6d6"/>
<rect x="518.1" y="1556" width="1" height="444.6" fill="#d6d6d6"/>
<rect x="0" y="1497" width="1" height="503.6" fill="#c8c8c8"/>
<rect x="275.4" y="1497" width="1.3" height="59" fill="#111"/>
<rect x="0" y="1554.6" width="276.7" height="1.3" fill="#111"/>
<line x1="0" y1="1498" x2="275.5" y2="1555.2" stroke="#111" stroke-width="1.1"/>
<text x="197.1" y="1517.6" textLength="43.4" lengthAdjust="spacingAndGlyphs" class="tb">День</text>
<text x="4.6" y="1544.4" textLength="80.9" lengthAdjust="spacingAndGlyphs" class="tb">Продукты</text>
<text x="316.3" y="1548.2" textLength="82.5" lengthAdjust="spacingAndGlyphs" class="tn">22.02.2015</text>
<text x="476.9" y="1548.2" textLength="84.3" lengthAdjust="spacingAndGlyphs" class="tn">26.03.2015</text>
<text x="279.6" y="1575.2" textLength="59.9" lengthAdjust="spacingAndGlyphs" class="tb">Магнит</text>
<text x="360.3" y="1575.2" textLength="49.5" lengthAdjust="spacingAndGlyphs" class="tb">Лента</text>
<text x="441.9" y="1575.2" textLength="59.6" lengthAdjust="spacingAndGlyphs" class="tb">Магнит</text>
<text x="521.3" y="1575.2" textLength="49.9" lengthAdjust="spacingAndGlyphs" class="tb">Лента</text>
<text x="4.2" y="1601.7" textLength="40.6" lengthAdjust="spacingAndGlyphs" class="tb">Хлеб</text>
<text transform="translate(353.2 1601.7) scale(0.96 1)" class="tn" text-anchor="end">20,30</text>
<text transform="translate(435.4 1601.7) scale(0.96 1)" class="tn" text-anchor="end">20,49</text>
<text transform="translate(515.3 1601.7) scale(0.96 1)" class="tn" text-anchor="end">20,30</text>
<text transform="translate(596.1 1601.7) scale(0.96 1)" class="tn" text-anchor="end">18,49</text>
<text x="4.2" y="1627.88" textLength="66.3" lengthAdjust="spacingAndGlyphs" class="tb">Молоко</text>
<text transform="translate(353.2 1627.88) scale(0.96 1)" class="tn" text-anchor="end">36,10</text>
<text transform="translate(435.4 1627.88) scale(0.96 1)" class="tn" text-anchor="end">34,19</text>
<text transform="translate(515.3 1627.88) scale(0.96 1)" class="tn" text-anchor="end">36,10</text>
<text transform="translate(596.1 1627.88) scale(0.96 1)" class="tn" text-anchor="end">35,39</text>
<text x="4.2" y="1654.06" textLength="133" lengthAdjust="spacingAndGlyphs" class="tb">Сыр Российский</text>
<text transform="translate(353.2 1654.06) scale(0.96 1)" class="tn" text-anchor="end">329,90</text>
<text transform="translate(435.4 1654.06) scale(0.96 1)" class="tn" text-anchor="end">330,29</text>
<text transform="translate(515.3 1654.06) scale(0.96 1)" class="tn" text-anchor="end">301,10</text>
<text transform="translate(596.1 1654.06) scale(0.96 1)" class="tn" text-anchor="end">368,39</text>
<text x="4.2" y="1680.24" textLength="97.8" lengthAdjust="spacingAndGlyphs" class="tb">Яйца (Лето)</text>
<text transform="translate(353.2 1680.24) scale(0.96 1)" class="tn" text-anchor="end">60,00</text>
<text transform="translate(435.4 1680.24) scale(0.96 1)" class="tn" text-anchor="end">63,99</text>
<text transform="translate(515.3 1680.24) scale(0.96 1)" class="tn" text-anchor="end">54,00</text>
<text transform="translate(596.1 1680.24) scale(0.96 1)" class="tn" text-anchor="end">57,49</text>
<text x="4.2" y="1706.42" textLength="48.3" lengthAdjust="spacingAndGlyphs" class="tb">Сахар</text>
<text transform="translate(353.2 1706.42) scale(0.96 1)" class="tn" text-anchor="end">51,40</text>
<text transform="translate(435.4 1706.42) scale(0.96 1)" class="tn" text-anchor="end">59,99</text>
<text transform="translate(515.3 1706.42) scale(0.96 1)" class="tn" text-anchor="end">48,40</text>
<text transform="translate(596.1 1706.42) scale(0.96 1)" class="tn" text-anchor="end">49,99</text>
<text x="4.2" y="1732.6" textLength="90.3" lengthAdjust="spacingAndGlyphs" class="tb">Картофель</text>
<text transform="translate(353.2 1732.6) scale(0.96 1)" class="tn" text-anchor="end">30,30</text>
<text transform="translate(435.4 1732.6) scale(0.96 1)" class="tn" text-anchor="end">17,99</text>
<text transform="translate(515.3 1732.6) scale(0.96 1)" class="tn" text-anchor="end">31,00</text>
<text transform="translate(596.1 1732.6) scale(0.96 1)" class="tn" text-anchor="end">30,99</text>
<text x="4.2" y="1758.78" textLength="93.8" lengthAdjust="spacingAndGlyphs" class="tb">Апельсины</text>
<text transform="translate(353.2 1758.78) scale(0.96 1)" class="tn" text-anchor="end">59,10</text>
<text transform="translate(435.4 1758.78) scale(0.96 1)" class="tn" text-anchor="end">78,99</text>
<text transform="translate(515.3 1758.78) scale(0.96 1)" class="tn" text-anchor="end">49,90</text>
<text transform="translate(596.1 1758.78) scale(0.96 1)" class="tn" text-anchor="end">56,99</text>
<text x="4.2" y="1784.96" textLength="62.8" lengthAdjust="spacingAndGlyphs" class="tb">Бананы</text>
<text transform="translate(353.2 1784.96) scale(0.96 1)" class="tn" text-anchor="end">95,50</text>
<text transform="translate(435.4 1784.96) scale(0.96 1)" class="tn" text-anchor="end">95,49</text>
<text transform="translate(515.3 1784.96) scale(0.96 1)" class="tn" text-anchor="end">80,10</text>
<text transform="translate(596.1 1784.96) scale(0.96 1)" class="tn" text-anchor="end">64,99</text>
<text x="4.2" y="1811.14" textLength="263.8" lengthAdjust="spacingAndGlyphs" class="tb">Масло сливочное (Рус, молоко)</text>
<text transform="translate(353.2 1811.14) scale(0.96 1)" class="tn" text-anchor="end">56,90</text>
<text transform="translate(435.4 1811.14) scale(0.96 1)" class="tn" text-anchor="end">50,69</text>
<text transform="translate(515.3 1811.14) scale(0.96 1)" class="tn" text-anchor="end">57,00</text>
<text transform="translate(596.1 1811.14) scale(0.96 1)" class="tn" text-anchor="end">50,69</text>
<text x="4.2" y="1837.32" textLength="267.8" lengthAdjust="spacingAndGlyphs" class="tb">Масло подсолнечное (Слобода)</text>
<text transform="translate(353.2 1837.32) scale(0.96 1)" class="tn" text-anchor="end">87,00</text>
<text transform="translate(435.4 1837.32) scale(0.96 1)" class="tn" text-anchor="end">89,99</text>
<text transform="translate(515.3 1837.32) scale(0.96 1)" class="tn" text-anchor="end">94,50</text>
<text transform="translate(596.1 1837.32) scale(0.96 1)" class="tn" text-anchor="end">84,39</text>
<text x="4.2" y="1863.5" textLength="56.3" lengthAdjust="spacingAndGlyphs" class="tb">Гречка</text>
<text transform="translate(353.2 1863.5) scale(0.96 1)" class="tn" text-anchor="end">51,70</text>
<text transform="translate(435.4 1863.5) scale(0.96 1)" class="tn" text-anchor="end">64,99</text>
<text transform="translate(515.3 1863.5) scale(0.96 1)" class="tn" text-anchor="end">52,00</text>
<text transform="translate(596.1 1863.5) scale(0.96 1)" class="tn" text-anchor="end">64,99</text>
<text x="4.2" y="1889.68" textLength="29.8" lengthAdjust="spacingAndGlyphs" class="tb">Рис</text>
<text transform="translate(353.2 1889.68) scale(0.96 1)" class="tn" text-anchor="end">51,00</text>
<text transform="translate(435.4 1889.68) scale(0.96 1)" class="tn" text-anchor="end">54,99</text>
<text transform="translate(515.3 1889.68) scale(0.96 1)" class="tn" text-anchor="end">56,20</text>
<text transform="translate(596.1 1889.68) scale(0.96 1)" class="tn" text-anchor="end">54,99</text>
<text x="4.2" y="1915.86" textLength="159.8" lengthAdjust="spacingAndGlyphs" class="tb">Макароны (Макфа)</text>
<text transform="translate(353.2 1915.86) scale(0.96 1)" class="tn" text-anchor="end">37,00</text>
<text transform="translate(435.4 1915.86) scale(0.96 1)" class="tn" text-anchor="end">40,13</text>
<text transform="translate(515.3 1915.86) scale(0.96 1)" class="tn" text-anchor="end">41,70</text>
<text transform="translate(596.1 1915.86) scale(0.96 1)" class="tn" text-anchor="end">40,19</text>
<text x="4.2" y="1942.04" textLength="62.8" lengthAdjust="spacingAndGlyphs" class="tb">Огурцы</text>
<text transform="translate(353.2 1942.04) scale(0.96 1)" class="tn" text-anchor="end">137,40</text>
<text transform="translate(435.4 1942.04) scale(0.96 1)" class="tn" text-anchor="end">229,99</text>
<text transform="translate(515.3 1942.04) scale(0.96 1)" class="tn" text-anchor="end">160,30</text>
<text transform="translate(596.1 1942.04) scale(0.96 1)" class="tn" text-anchor="end">139,99</text>
<text x="4.2" y="1968.22" textLength="90.3" lengthAdjust="spacingAndGlyphs" class="tb">Помидоры</text>
<text transform="translate(353.2 1968.22) scale(0.96 1)" class="tn" text-anchor="end">110,40</text>
<text transform="translate(435.4 1968.22) scale(0.96 1)" class="tn" text-anchor="end">189,99</text>
<text transform="translate(515.3 1968.22) scale(0.96 1)" class="tn" text-anchor="end">89,20</text>
<text transform="translate(596.1 1968.22) scale(0.96 1)" class="tn" text-anchor="end">119,99</text>
<text x="4.2" y="1994.4" textLength="42.8" lengthAdjust="spacingAndGlyphs" class="tb">Мука</text>
<text transform="translate(353.2 1994.4) scale(0.96 1)" class="tn" text-anchor="end">54,90</text>
<text transform="translate(435.4 1994.4) scale(0.96 1)" class="tn" text-anchor="end">66,39</text>
<text transform="translate(515.3 1994.4) scale(0.96 1)" class="tn" text-anchor="end">55,00</text>
<text transform="translate(596.1 1994.4) scale(0.96 1)" class="tn" text-anchor="end">69,89</text>
</svg>
<svg class="abs" style="top:2000px" width="600" height="76" viewBox="0 2000 600 76">
<rect x="0" y="2000.5" width="600" height="76" fill="#2e2e2e"/>
<text x="151.6" y="2031.2" textLength="296.9" lengthAdjust="spacingAndGlyphs" class="ht">Создано пользователем Dank94</text>
<text x="167.6" y="2061" textLength="266.2" lengthAdjust="spacingAndGlyphs" class="ht">Через Pikapost.Ru для Pikabu</text>
<text x="550.6" y="2068.3" textLength="44.6" lengthAdjust="spacing" class="wm">pikabu.ru</text>
</svg>
</body></html>
